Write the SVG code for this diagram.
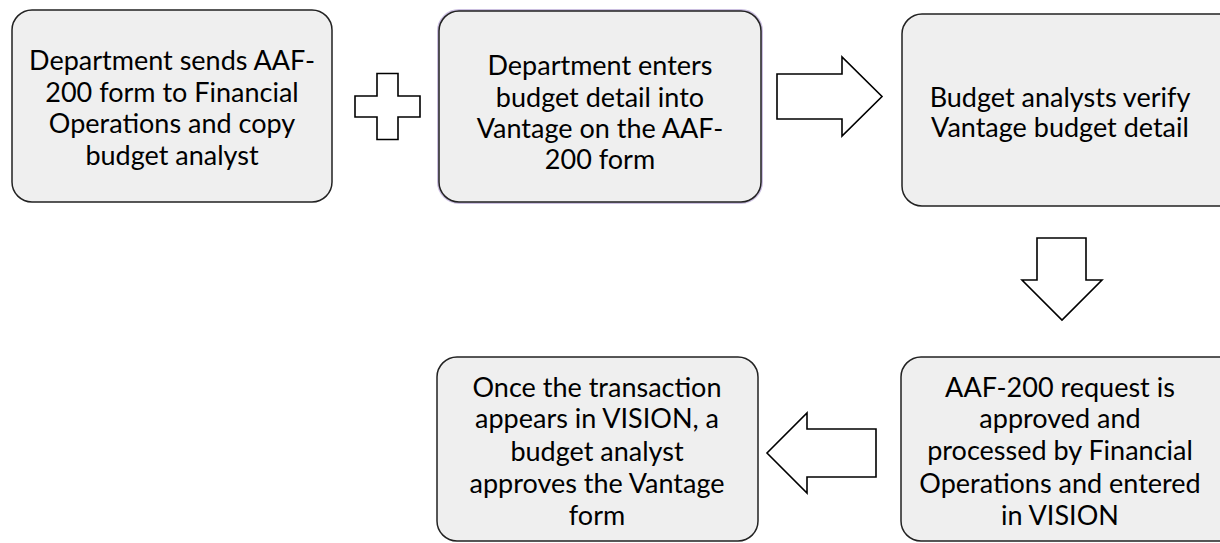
<svg xmlns="http://www.w3.org/2000/svg" width="1220" height="543" viewBox="0 0 1220 543">
  <style>
    .box { fill: #efefef; stroke: #222; stroke-width: 1.5; }
    .glow { fill: none; stroke: #cbbfe0; stroke-width: 4; }
    .arrow { fill: #fff; stroke: #000; stroke-width: 1.6; stroke-linejoin: miter; }
    .t { font-family: Lato, "Open Sans", sans-serif; font-size: 27px; fill: #000; text-anchor: middle; }
  </style>
  <rect width="1220" height="543" fill="#fff"/>
  <g id="connectors">
    <polygon id="plus" class="arrow" points="377,73.5 398,73.5 398,96 420,96 420,117 398,117 398,139.5 377,139.5 377,117 355,117 355,96 377,96"/>
    <polygon id="arrow-right" class="arrow" points="777,74 842,74 842,57 882,96.5 842,136 842,119 777,119"/>
    <polygon id="arrow-down" class="arrow" points="1037,238 1086,238 1086,280 1102,280 1062,320 1022,280 1037,280"/>
    <polygon id="arrow-left" class="arrow" points="876,429 807,429 807,413 767,453 807,493 807,477 876,477"/>
  </g>
  <g id="node1">
    <rect class="box" x="12" y="10" width="320" height="192" rx="20"/>
    <text class="t" x="172" y="70">Department sends AAF-</text>
    <text class="t" x="172" y="102">200 form to Financial</text>
    <text class="t" x="172" y="133">Operations and copy</text>
    <text class="t" x="172" y="165">budget analyst</text>
  </g>
  <g id="node2">
    <rect class="glow" x="439" y="11" width="322" height="191" rx="20"/>
    <rect class="box" x="439" y="11" width="322" height="191" rx="20"/>
    <text class="t" x="600" y="75">Department enters</text>
    <text class="t" x="600" y="107">budget detail into</text>
    <text class="t" x="600" y="138">Vantage on the AAF-</text>
    <text class="t" x="600" y="169">200 form</text>
  </g>
  <g id="node3">
    <rect class="box" x="902" y="14" width="340" height="192" rx="20"/>
    <text class="t" x="1060" y="107">Budget analysts verify</text>
    <text class="t" x="1060" y="137">Vantage budget detail</text>
  </g>
  <g id="node4">
    <rect class="box" x="901" y="357" width="340" height="184" rx="20"/>
    <text class="t" x="1060" y="397">AAF-200 request is</text>
    <text class="t" x="1060" y="428">approved and</text>
    <text class="t" x="1060" y="460">processed by Financial</text>
    <text class="t" x="1060" y="493">Operations and entered</text>
    <text class="t" x="1060" y="525">in VISION</text>
  </g>
  <g id="node5">
    <rect class="box" x="437" y="357" width="321" height="184" rx="20"/>
    <text class="t" x="597" y="397">Once the transaction</text>
    <text class="t" x="597" y="428">appears in VISION, a</text>
    <text class="t" x="597" y="461">budget analyst</text>
    <text class="t" x="597" y="493">approves the Vantage</text>
    <text class="t" x="597" y="525">form</text>
  </g>
</svg>
